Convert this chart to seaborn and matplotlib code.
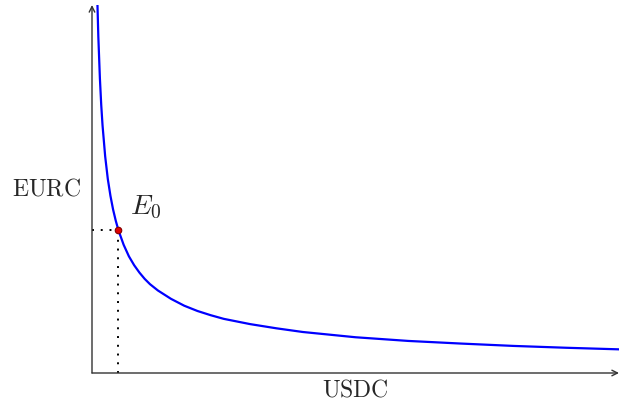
import numpy as np
import pandas as pd
import matplotlib
matplotlib.use("Agg")
import matplotlib.pyplot as plt
import seaborn as sns

sns.set_style("white")
plt.rcParams['mathtext.fontset'] = 'cm'
plt.rcParams['font.family'] = ['DejaVu Serif']

# --- curve values (USDC -> EURC) ---
usdc = [0.09, 0.10, 0.12, 0.15, 0.175, 0.20, 0.25, 0.30, 0.35, 0.40, 0.45, 0.50,
        0.60, 0.70, 0.80, 0.90, 1.00, 1.10, 1.25, 1.50, 1.75, 2.00, 2.25, 2.50,
        2.75, 3.00, 3.50, 4.00, 4.50, 5.00, 6.00, 7.00, 8.00, 9.00, 10.0]
eurc = [7.60, 7.14, 6.40, 5.60, 5.10, 4.71, 4.12, 3.69, 3.37, 3.11, 2.90, 2.72,
        2.44, 2.22, 2.05, 1.91, 1.79, 1.69, 1.57, 1.41, 1.28, 1.18, 1.10, 1.03,
        0.98, 0.93, 0.85, 0.78, 0.73, 0.68, 0.61, 0.56, 0.515, 0.48, 0.45]

# equilibrium point E0
e0_x = [0.5]
e0_y = [2.72]

df = pd.DataFrame({'USDC': usdc, 'EURC': eurc})
pt = pd.DataFrame({'USDC': e0_x, 'EURC': e0_y})

fig = plt.figure(figsize=(6.19, 4.05), dpi=100)
ax = fig.add_axes([92 / 619, 32 / 405, 527 / 619, 368 / 405])

sns.lineplot(data=df, x='USDC', y='EURC', ax=ax, color='#0000ff', lw=1.6, sort=False,
             solid_joinstyle='round')

# dotted guides to the axes
ax.plot([0, e0_x[0]], [e0_y[0], e0_y[0]], color='black', lw=1.4, ls=(0, (1, 3.5)))
ax.plot([e0_x[0], e0_x[0]], [0, e0_y[0]], color='black', lw=1.4, ls=(0, (1, 3.5)))

sns.scatterplot(data=pt, x='USDC', y='EURC', ax=ax, color='#e00000', edgecolor='#800000',
                s=22, linewidth=0.8, zorder=5)
ax.text(e0_x[0] + 0.22, e0_y[0] + 0.3, r'$E_0$', fontsize=20)

ax.set_xlim(0, 10)
ax.set_ylim(0, 7)
for s in ax.spines.values():
    s.set_visible(False)
ax.set_xticks([])
ax.set_yticks([])

# axis arrows
ax.annotate('', xy=(1.0, 0), xytext=(0, 0), xycoords='axes fraction',
            arrowprops=dict(arrowstyle='->', color='#333333', lw=1.0, shrinkA=0, shrinkB=0))
ax.annotate('', xy=(0, 1.0), xytext=(0, 0), xycoords='axes fraction',
            arrowprops=dict(arrowstyle='->', color='#333333', lw=1.0, shrinkA=0, shrinkB=0))

ax.set_xlabel(r'$\mathrm{USDC}$', fontsize=17, labelpad=4)
ax.set_ylabel(r'$\mathrm{EURC}$', fontsize=17, rotation=0, labelpad=8, va='center', ha='right')

fig.savefig('out.png', dpi=100)
